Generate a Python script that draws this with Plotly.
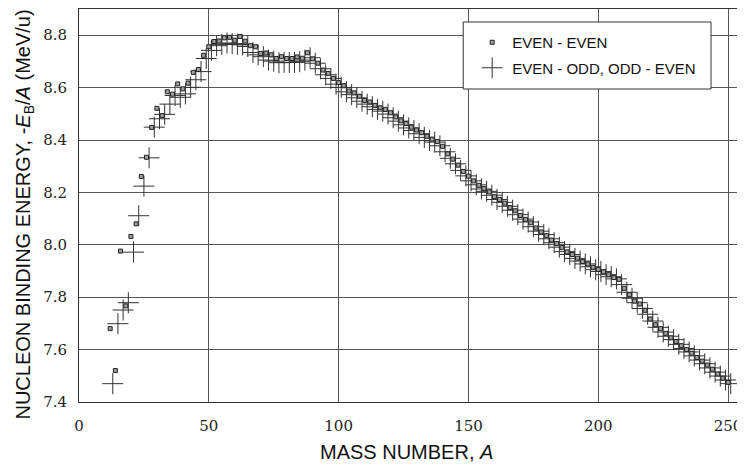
import plotly.graph_objects as go

# Even-even nuclei: mass number and binding energy per nucleon (MeV/u)
even_A = list(range(12, 251, 2))
even_BE = [7.680, 7.520, 7.976, 7.767, 8.032, 8.080, 8.261, 8.334, 8.448, 8.521,
           8.493, 8.584, 8.575, 8.614, 8.595, 8.617, 8.658, 8.669, 8.723, 8.756,
           8.776, 8.778, 8.790, 8.792, 8.781, 8.795, 8.777, 8.760, 8.756, 8.730,
           8.732, 8.725, 8.711, 8.718, 8.711, 8.711, 8.717, 8.712, 8.733, 8.710,
           8.693, 8.667, 8.654, 8.635, 8.619, 8.607, 8.587, 8.580, 8.567, 8.551,
           8.545, 8.532, 8.523, 8.517, 8.504, 8.488, 8.473, 8.463, 8.449, 8.438,
           8.428, 8.414, 8.403, 8.394, 8.376, 8.347, 8.327, 8.304, 8.280, 8.262,
           8.244, 8.227, 8.215, 8.202, 8.184, 8.173, 8.159, 8.142, 8.130, 8.112,
           8.097, 8.084, 8.064, 8.049, 8.035, 8.018, 8.005, 7.989, 7.973, 7.963,
           7.949, 7.936, 7.927, 7.914, 7.906, 7.897, 7.886, 7.875, 7.868, 7.834,
           7.810, 7.785, 7.774, 7.750, 7.717, 7.695, 7.680, 7.662, 7.645, 7.631,
           7.615, 7.600, 7.586, 7.570, 7.556, 7.541, 7.525, 7.507, 7.491, 7.475]

# Even-odd / odd-even (odd-A) nuclei
odd_A = list(range(13, 252, 2))
odd_BE = [7.470, 7.699, 7.751, 7.779, 7.972, 8.111, 8.224, 8.332, 8.449, 8.481,
          8.498, 8.537, 8.570, 8.563, 8.576, 8.601, 8.630, 8.661, 8.711, 8.742,
          8.760, 8.765, 8.770, 8.768, 8.765, 8.763, 8.757, 8.734, 8.725, 8.718,
          8.705, 8.701, 8.695, 8.696, 8.696, 8.696, 8.699, 8.705, 8.714, 8.693,
          8.672, 8.649, 8.635, 8.613, 8.601, 8.584, 8.573, 8.561, 8.548, 8.537,
          8.527, 8.517, 8.510, 8.499, 8.485, 8.472, 8.458, 8.446, 8.436, 8.424,
          8.410, 8.398, 8.392, 8.378, 8.355, 8.330, 8.309, 8.284, 8.263, 8.244,
          8.229, 8.213, 8.204, 8.189, 8.173, 8.162, 8.147, 8.132, 8.115, 8.098,
          8.087, 8.069, 8.052, 8.039, 8.023, 8.008, 7.991, 7.974, 7.963, 7.948,
          7.938, 7.927, 7.916, 7.905, 7.898, 7.886, 7.878, 7.870, 7.848, 7.819,
          7.796, 7.779, 7.757, 7.735, 7.709, 7.685, 7.667, 7.651, 7.638, 7.620,
          7.604, 7.591, 7.576, 7.560, 7.546, 7.530, 7.514, 7.499, 7.484, 7.470]

x_ticks = [0, 50, 100, 150, 200, 250]
y_ticks = [7.4, 7.6, 7.8, 8.0, 8.2, 8.4, 8.6, 8.8]

fig = go.Figure()
fig.add_trace(go.Scatter(
    x=odd_A, y=odd_BE, mode="markers", name="EVEN - ODD, ODD - EVEN",
    legendgroup="b", legendrank=2,
    marker=dict(symbol="cross-thin", size=15, color="#333333",
                line=dict(color="#333333", width=1)),
))
fig.add_trace(go.Scatter(
    x=even_A, y=even_BE, mode="markers", name="EVEN - EVEN",
    legendgroup="a", legendrank=1,
    marker=dict(symbol="square", size=4, color="#a0a0a0",
                line=dict(color="#222222", width=1)),
))

axis_common = dict(
    showline=True, linecolor="#333333", linewidth=1, mirror=True,
    showgrid=True, gridcolor="#555555", gridwidth=1,
    zeroline=False, ticks="", automargin=False,
)
tick_font = dict(family="'DejaVu Serif', 'Liberation Serif', serif", size=15, color="#222222")

fig.update_xaxes(range=[0, 254.2], tickvals=x_ticks, ticklabelstandoff=10,
                 tickfont=tick_font, **axis_common)
fig.update_yaxes(range=[7.4, 8.9], tickvals=y_ticks, tickformat=".1f",
                 ticklabelstandoff=8, tickfont=tick_font, **axis_common)

# plot area (page pixels): left 78.5, right 739, top 9, bottom 402; page has 8px body offset
PL, PR, PT, PB = 78.5, 739.0, 9.0, 402.0
PW, PH = PR - PL, PB - PT

fig.add_shape(type="rect", xref="paper", yref="paper",
              x0=(463 - PL) / PW, x1=(711 - PL) / PW,
              y0=(PB - 89) / PH, y1=(PB - 22) / PH,
              fillcolor="white", line=dict(color="#333333", width=1), layer="above")

fig.add_annotation(text="MASS NUMBER, <i>A</i>", xref="paper", yref="paper",
                   x=(406 - PL) / PW, y=-(452 - PB) / PH,
                   showarrow=False, xanchor="center", yanchor="middle",
                   font=dict(family="Liberation Sans", size=20, color="#111111"))
fig.add_annotation(text="NUCLEON BINDING ENERGY, -<i>E</i><sub>B</sub>/<i>A</i> (MeV/u)",
                   xref="paper", yref="paper",
                   x=-(PL - 23) / PW, y=(PB - 215) / PH, textangle=-90,
                   showarrow=False, xanchor="center", yanchor="middle",
                   font=dict(family="Liberation Sans", size=20, color="#111111"))

fig.update_layout(
    width=737, height=463,
    margin=dict(l=PL - 8, r=745 - PR, t=PT - 8, b=471 - PB, pad=0),
    paper_bgcolor="white", plot_bgcolor="white",
    showlegend=True,
    legend=dict(x=(472 - PL) / PW, y=(PB - 26) / PH, xanchor="left", yanchor="top",
                bgcolor="rgba(0,0,0,0)", borderwidth=0,
                traceorder="grouped", tracegroupgap=3,
                font=dict(family="Liberation Sans", size=15, color="#111111")),
)

fig.write_html("out.html")
